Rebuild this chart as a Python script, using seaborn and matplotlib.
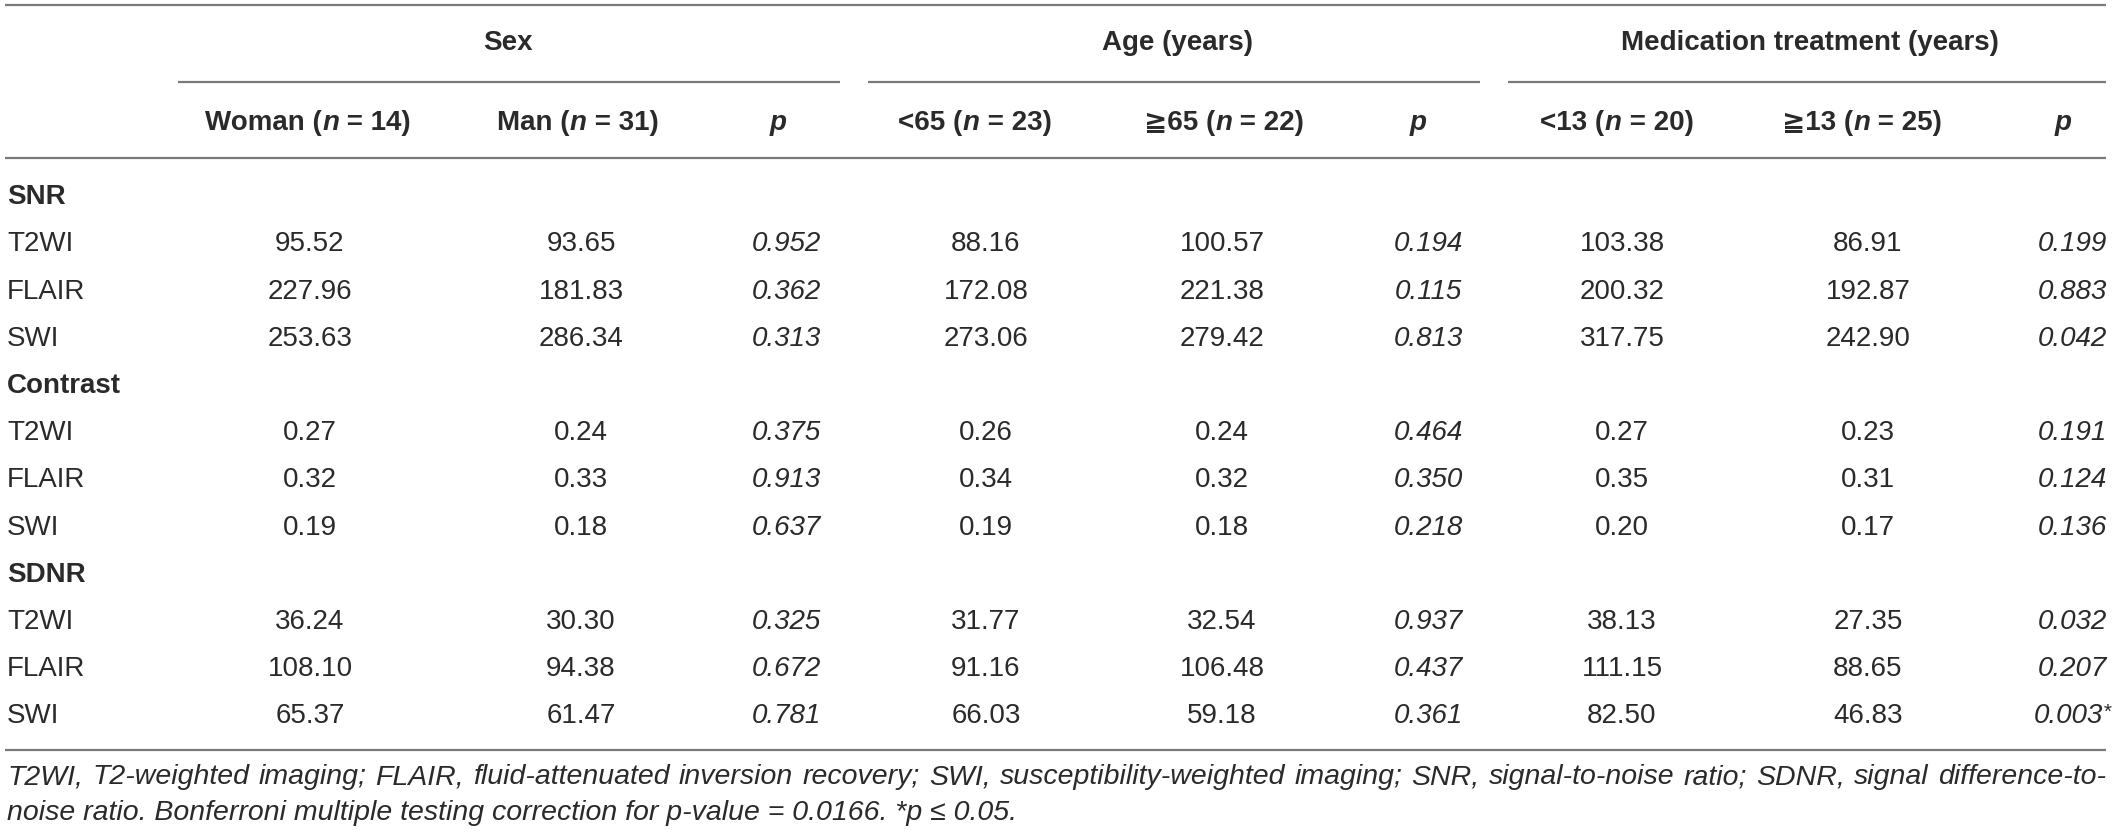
import matplotlib
matplotlib.use("Agg")
import matplotlib.pyplot as plt
import seaborn as sns

# ---- table data ----
groups = ["Sex", "Age (years)", "Medication treatment (years)"]
subheads = [
    ("Woman", "14"), ("Man", "31"), None,
    ("<65", "23"), ("\u226765", "22"), None,
    ("<13", "20"), ("\u226713", "25"), None,
]
sections = ["SNR", "Contrast", "SDNR"]
sequences = ["T2WI", "FLAIR", "SWI"]

woman = [95.52, 227.96, 253.63, 0.27, 0.32, 0.19, 36.24, 108.10, 65.37]
man = [93.65, 181.83, 286.34, 0.24, 0.33, 0.18, 30.30, 94.38, 61.47]
p_sex = [0.952, 0.362, 0.313, 0.375, 0.913, 0.637, 0.325, 0.672, 0.781]
age_lt65 = [88.16, 172.08, 273.06, 0.26, 0.34, 0.19, 31.77, 91.16, 66.03]
age_ge65 = [100.57, 221.38, 279.42, 0.24, 0.32, 0.18, 32.54, 106.48, 59.18]
p_age = [0.194, 0.115, 0.813, 0.464, 0.350, 0.218, 0.937, 0.437, 0.361]
med_lt13 = [103.38, 200.32, 317.75, 0.27, 0.35, 0.20, 38.13, 111.15, 82.50]
med_ge13 = [86.91, 192.87, 242.90, 0.23, 0.31, 0.17, 27.35, 88.65, 46.83]
p_med = [0.199, 0.883, 0.042, 0.191, 0.124, 0.136, 0.032, 0.207, 0.003]
p_med_flag = [False] * 8 + [True]

footnote_1 = ("T2WI, T2-weighted imaging; FLAIR, fluid-attenuated inversion recovery; "
              "SWI, susceptibility-weighted imaging; SNR, signal-to-noise ratio; "
              "SDNR, signal difference-to-")
footnote_2 = "noise ratio. Bonferroni multiple testing correction for p-value = 0.0166. *p \u2264 0.05."

# ---- style ----
sns.set_theme(style="white")
plt.rcParams["font.family"] = ["Liberation Sans", "DejaVu Sans"]
TXT = "#2a2a2a"
LINE = "#7a7a7a"
FS = 20

W, H = 2118, 836
fig = plt.figure(figsize=(W / 100, H / 100), dpi=100)
ax = fig.add_axes([0, 0, 1, 1])
ax.set_xlim(0, W)
ax.set_ylim(H, 0)
ax.axis("off")
renderer = fig.canvas.get_renderer()


def text_width(t):
    return t.get_window_extent(renderer=renderer).width


def draw_runs(x, y, runs, ha="center", size=FS):
    # runs: list of (string, weight, style[, size, raise]); y is the text centre line
    items = []
    for r in runs:
        s, wt, st = r[:3]
        sz = r[3] if len(r) > 3 else size
        dy = r[4] if len(r) > 4 else 0
        t = ax.text(0, y + size * 0.36 - dy, s, fontsize=sz, fontweight=wt,
                    fontstyle=st, color=TXT, va="baseline", ha="left")
        items.append(t)
    widths = [text_width(t) for t in items]
    total = sum(widths)
    x0 = x - total / 2 if ha == "center" else x
    for t, w in zip(items, widths):
        t.set_x(x0)
        x0 += w


# rules
left, right = 5, 2106
ax.hlines([5, 158, 750], left, right, color=LINE, lw=1.6)
for x0, x1 in [(178, 840), (868, 1480), (1508, right)]:
    ax.hlines(82, x0, x1, color=LINE, lw=1.6)

# group headers
for g, xc in zip(groups, [508, 1177, 1810]):
    draw_runs(xc, 43, [(g, "bold", "normal")])

# column headers
head_x = [308, 578, 778, 975, 1224, 1418, 1617, 1862, 2063]
for sh, xc in zip(subheads, head_x):
    if sh is None:
        draw_runs(xc, 123, [("p", "bold", "italic")])
    else:
        draw_runs(xc, 123, [(sh[0] + " (", "bold", "normal"), ("n", "bold", "italic"),
                            (" = " + sh[1] + ")", "bold", "normal")])

# body
val_x = [310, 581, 786, 986, 1222, 1428, 1622, 1868, 2072]
columns = [woman, man, p_sex, age_lt65, age_ge65, p_age, med_lt13, med_ge13, p_med]
is_p = [False, False, True] * 3
y0, pitch = 197, 47.2
row = 0
k = 0
for sec in sections:
    y = y0 + row * pitch
    draw_runs(7, y, [(sec, "bold", "normal")], ha="left")
    row += 1
    for seq in sequences:
        y = y0 + row * pitch
        draw_runs(7, y, [(seq, "normal", "normal")], ha="left")
        for col, xc, pc in zip(columns, val_x, is_p):
            if pc:
                s = f"{col[k]:.3f}"
                runs = [(s, "normal", "italic")]
                if col is p_med and p_med_flag[k]:
                    runs.append(("*", "normal", "italic", 15, 6))
            else:
                s = f"{col[k]:.2f}"
                runs = [(s, "normal", "normal")]
            draw_runs(xc, y, runs)
        row += 1
        k += 1

# footnote, first line justified across the table width
fn_size = 20.5
words = footnote_1.split(" ")
wtexts = [ax.text(0, 777 + fn_size * 0.36, w, fontsize=fn_size, fontstyle="italic",
                  color=TXT, va="baseline", ha="left") for w in words]
ww = [text_width(t) for t in wtexts]
gap = (right - 7 - sum(ww)) / (len(words) - 1)
xx = 7
for t, w in zip(wtexts, ww):
    t.set_x(xx)
    xx += w + gap
draw_runs(7, 813, [(footnote_2, "normal", "italic")], ha="left", size=fn_size)

fig.savefig("out.png", dpi=100)
